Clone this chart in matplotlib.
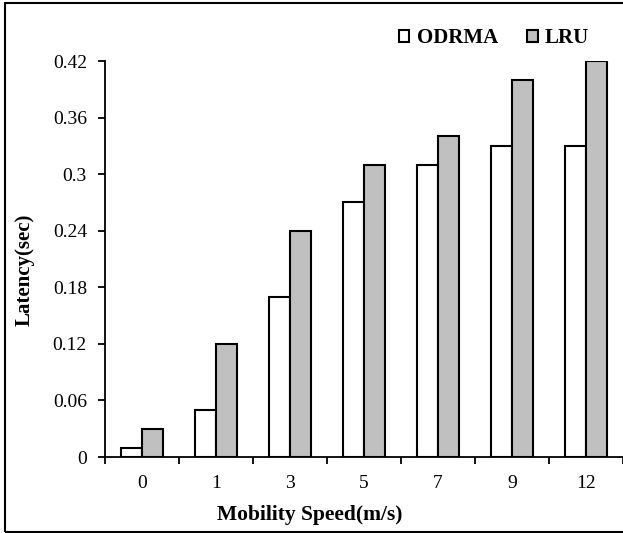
import matplotlib.pyplot as plt
from matplotlib.patches import Rectangle
import numpy as np

plt.rcParams['font.family'] = ['Liberation Serif', 'DejaVu Serif']

speeds = ['0', '1', '3', '5', '7', '9', '12']
odrma = [0.01, 0.05, 0.17, 0.27, 0.31, 0.33, 0.33]
lru = [0.03, 0.12, 0.24, 0.31, 0.34, 0.40, 0.42]
yticks = [0, 0.06, 0.12, 0.18, 0.24, 0.3, 0.36, 0.42]
ytick_labels = ['0', '0.06', '0.12', '0.18', '0.24', '0.3', '0.36', '0.42']

W, H = 623, 533
fig = plt.figure(figsize=(W / 100, H / 100), dpi=100)
ax = fig.add_axes([105 / W, (H - 457) / H, 518 / W, 396 / H])

x = np.arange(len(speeds))
bw = 0.285
ax.bar(x - bw / 2, odrma, bw, color='white', edgecolor='black', linewidth=1.5, label='ODRMA')
ax.bar(x + bw / 2, lru, bw, color='#c0c0c0', edgecolor='black', linewidth=1.5, label='LRU')

ax.set_xlim(-0.5, len(speeds) - 0.5)
ax.set_ylim(0, 0.42)
ax.set_yticks(yticks)
ax.set_yticklabels(ytick_labels, fontsize=14)
ax.set_xticks(x)
ax.set_xticklabels(speeds, fontsize=14)
ax.tick_params(axis='x', length=0, pad=13)
ax.set_xticks(np.arange(len(speeds) + 1) - 0.5, minor=True)
ax.tick_params(axis='x', which='minor', length=5, width=1.3, direction='out')
ax.tick_params(axis='y', length=5, width=1.3, direction='out', pad=8)
for s in ['top', 'right']:
    ax.spines[s].set_visible(False)
for s in ['left', 'bottom']:
    ax.spines[s].set_linewidth(1.3)

fig.text(310 / W, 1 - 515 / H, 'Mobility Speed(m/s)', ha='center', va='center',
         fontsize=15.5, fontweight='bold')
fig.text(25 / W, 1 - 270 / H, 'Latency(sec)', ha='center', va='center',
         rotation=90, fontsize=15, fontweight='bold')

leg = fig.legend(loc='center left', bbox_to_anchor=(399 / W, 1 - 38 / H), ncol=2,
                 frameon=False, prop={'weight': 'bold', 'size': 15},
                 handlelength=0.5, handleheight=0.5, handletextpad=0.35,
                 columnspacing=1.4, borderpad=0, borderaxespad=0)

# outer frame (right side falls outside the picture)
fig.patches.append(Rectangle((5 / W, 1 / H), 1.0, 1 - 4 / H, transform=fig.transFigure,
                             fill=False, edgecolor='black', linewidth=1.5))

fig.savefig('out.png', dpi=100)
